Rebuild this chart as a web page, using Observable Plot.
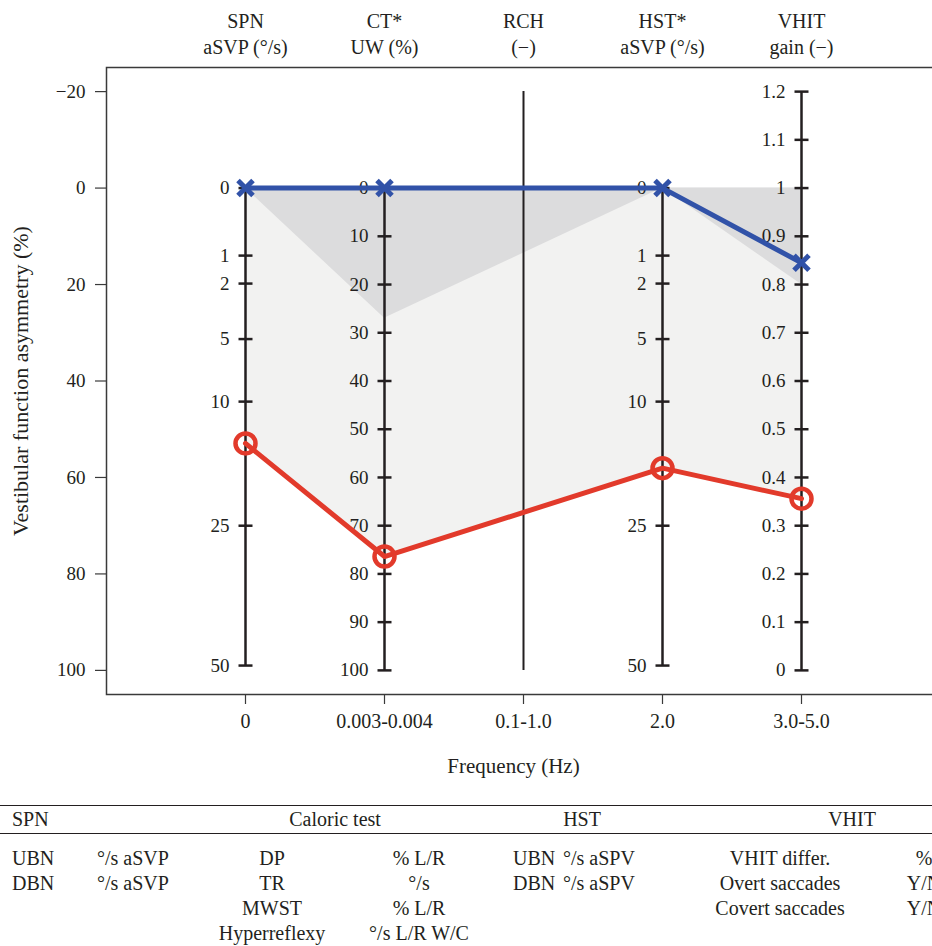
<!DOCTYPE html>
<html>
<head>
<meta charset="utf-8">
<script src="https://cdn.jsdelivr.net/npm/d3@7"></script>
<script src="https://cdn.jsdelivr.net/npm/@observablehq/plot@0.6"></script>
<style>
  body { margin: 0; background: #fff; width: 932px; height: 946px; overflow: hidden; }
  #chart svg { display: block; overflow: hidden; font-family: "Liberation Serif", serif !important; }
  #chart svg text { font-family: "Liberation Serif", serif !important; }
  table { border-collapse: collapse; table-layout: fixed; width: 974px; font-family: "Liberation Serif", serif; font-size: 20px; color: #231f20; margin-top: 10px; }
  thead td { border-top: 1.5px solid #231f20; border-bottom: 1px solid #231f20; height: 27px; padding: 0; line-height: 27px; white-space: nowrap; }
  tbody td { height: 25px; padding: 0; line-height: 25px; white-space: nowrap; }
  tbody tr:first-child td { padding-top: 12px; }
</style>
</head>
<body>
<div id="chart"></div>
<div id="table"></div>
<script>
// ---- data ----
const tests = ["SPN", "CT*", "RCH", "HST*", "VHIT"];
const units = ["aSVP (°/s)", "UW (%)", "(−)", "aSVP (°/s)", "gain (−)"];
const frequencies = ["0", "0.003-0.004", "0.1-1.0", "2.0", "3.0-5.0"];
const mainTicks = [-20, 0, 20, 40, 60, 80, 100];
const sqrtTicks = [0, 1, 2, 5, 10, 25, 50];
const ctTicks = [0, 10, 20, 30, 40, 50, 60, 70, 80, 90, 100];
const vhitTicks = [0, 0.1, 0.2, 0.3, 0.4, 0.5, 0.6, 0.7, 0.8, 0.9, 1.0, 1.1, 1.2];
// values in each test's own unit (null = no value for RCH)
const blueSeries = [0, 0, null, 0, 0.845];
const redSeries = [14.3, 76.4, null, 17.2, 0.356];
const normalLimit = [0, 27, null, 0, 0.8];

const tableHeader = ["SPN", "Caloric test", "HST", "VHIT"];
const tableRows = [
  ["UBN", "°/s aSVP", "DP", "% L/R", "UBN", "°/s aSPV", "VHIT differ.", "%"],
  ["DBN", "°/s aSVP", "TR", "°/s", "DBN", "°/s aSPV", "Overt saccades", "Y/N"],
  ["", "", "MWST", "% L/R", "", "", "Covert saccades", "Y/N"],
  ["", "", "Hyperreflexy", "°/s L/R W/C", "", "", "", ""]
];

// ---- per-test scales onto the main asymmetry (%) axis ----
const sqrtScale = d3.scaleSqrt().domain([0, 50]).range([0, 99]);
const ctScale = d3.scaleLinear().domain([0, 100]).range([0, 100]);
const vhitScale = d3.scaleLinear().domain([0, 1.2]).range([100, -20]);
const scales = [sqrtScale, ctScale, null, sqrtScale, vhitScale];
const tickSets = [sqrtTicks, ctTicks, null, sqrtTicks, vhitTicks];

const toRows = (series) => series
  .map((v, i) => v == null ? null : {pos: i, y: scales[i](v)})
  .filter(Boolean);

const blueRows = toRows(blueSeries);
const redRows = toRows(redSeries);
const normalRows = toRows(normalLimit);

const tickRows = [];
const axisLines = [];
tests.forEach((t, i) => {
  if (scales[i]) {
    const s = scales[i];
    tickSets[i].forEach(v => tickRows.push({pos: i, y: s(v), label: String(+v.toFixed(1))}));
    axisLines.push({pos: i, y1: s(d3.min(tickSets[i])), y2: s(d3.max(tickSets[i])), w: 2.5});
  } else {
    const [a, b] = d3.extent(mainTicks);
    axisLines.push({pos: i, y1: a, y2: b, w: 2});
  }
});

const ink = "#231f20";
const red = "#e23a2b";
const blue = "#3152a8";
const serif = "Liberation Serif, serif";
const hline = {draw(ctx) { ctx.moveTo(-7, 0); ctx.lineTo(7, 0); }};
const cross = {draw(ctx) { ctx.moveTo(-7.5, -7.5); ctx.lineTo(7.5, 7.5); ctx.moveTo(-7.5, 7.5); ctx.lineTo(7.5, -7.5); }};
const idx = tests.map((_, i) => i);

const chart = Plot.plot({
  width: 932,
  height: 795,
  marginLeft: 106,
  marginRight: -8,
  marginTop: 67,
  marginBottom: 101,
  x: {domain: [-1, 5], axis: null},
  y: {domain: [-25, 105], reverse: true, axis: null},
  style: {fontFamily: serif, fontSize: "19px", color: ink, background: "#fff"},
  marks: [
    Plot.areaY(redRows, {x: "pos", y1: 0, y2: "y", fill: "#f2f2f1"}),
    Plot.areaY(normalRows, {x: "pos", y1: 0, y2: "y", fill: "#dcdcdd"}),
    Plot.frame({stroke: "#3a3a3a", strokeWidth: 1.5}),
    Plot.axisY(mainTicks, {anchor: "left", tickSize: 11, tickPadding: 10, stroke: "#3a3a3a", strokeWidth: 1.2,
      tickFormat: d => d < 0 ? "−" + (-d) : String(d), label: null, fontSize: 19, fontFamily: serif}),
    Plot.axisX(idx, {anchor: "bottom", tickSize: 10, tickPadding: 9, stroke: "#3a3a3a", strokeWidth: 1.2,
      tickFormat: i => frequencies[i], label: null, fontSize: 20, fontFamily: serif}),
    Plot.text(["Frequency (Hz)"], {frameAnchor: "bottom", dx: -10, dy: 78, fontSize: 21, fontFamily: serif}),
    Plot.text(["Vestibular function asymmetry (%)"], {frameAnchor: "left", textAnchor: "middle", rotate: -90, dx: -86, fontSize: 22, fontFamily: serif}),
    Plot.text(idx, {x: i => i, frameAnchor: "top", text: i => tests[i] + "\n" + units[i],
      lineAnchor: "middle", lineHeight: 1.3, dy: -35, fontSize: 20, fontFamily: serif}),
    Plot.ruleX(axisLines, {x: "pos", y1: "y1", y2: "y2", stroke: ink, strokeWidth: "w"}),
    Plot.dot(tickRows, {x: "pos", y: "y", symbol: hline, fill: "none", stroke: ink, strokeWidth: 2.5}),
    Plot.text(tickRows, {x: "pos", y: "y", text: "label", textAnchor: "end", dx: -16, fontSize: 19, fontFamily: serif}),
    Plot.line(blueRows, {x: "pos", y: "y", stroke: blue, strokeWidth: 5}),
    Plot.dot(blueRows, {x: "pos", y: "y", symbol: cross, fill: "none", stroke: blue, strokeWidth: 5}),
    Plot.line(redRows, {x: "pos", y: "y", stroke: red, strokeWidth: 5}),
    Plot.dot(redRows, {x: "pos", y: "y", r: 10, fill: "none", stroke: red, strokeWidth: 4.5})
  ]
});
document.getElementById("chart").appendChild(chart);

// ---- table ----
const colWidths = [90, 122, 120, 174, 50, 130, 188, 100];
const colAlign = ["left", "left", "center", "center", "left", "left", "center", "center"];
const colPad = [12, 7, 0, 0, 7, 7, 0, 0];
const headStyles = [
  "text-align:left;padding-left:12px",
  "text-align:center;padding-right:48px",
  "text-align:center;padding-right:28px",
  "text-align:center;padding-left:44px"
];
let html = "<table><colgroup>" + colWidths.map(w => `<col style="width:${w}px">`).join("") + "</colgroup>";
html += "<thead><tr>" + tableHeader.map((h, i) => `<td colspan="2" style="${headStyles[i]}">${h}</td>`).join("") + "</tr></thead><tbody>";
tableRows.forEach(r => {
  html += "<tr>" + r.map((c, j) => `<td style="text-align:${colAlign[j]};padding-left:${colPad[j]}px">${c}</td>`).join("") + "</tr>";
});
html += "</tbody></table>";
document.getElementById("table").innerHTML = html;
</script>
</body>
</html>
